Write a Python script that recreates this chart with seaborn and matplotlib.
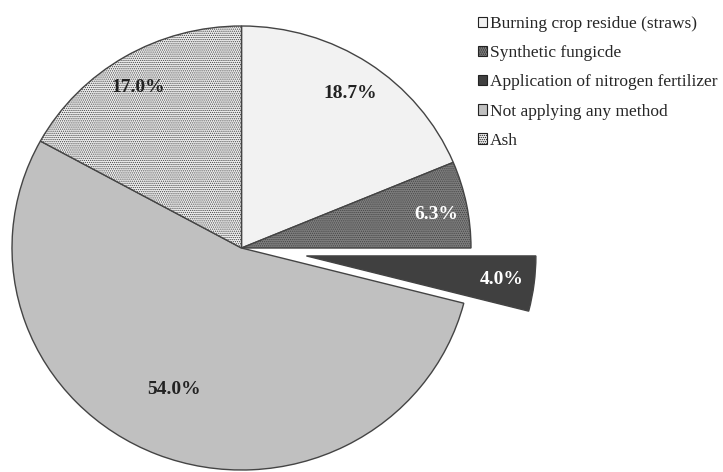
import matplotlib
matplotlib.use("Agg")
import matplotlib.pyplot as plt
import seaborn as sns
import numpy as np
from matplotlib.patches import Patch

sns.set_theme(style="white")
plt.rcParams['font.family'] = ['Liberation Serif', 'DejaVu Serif']
plt.rcParams['hatch.linewidth'] = 0.6

# Data
methods = ["Burning crop residue (straws)", "Synthetic fungicde",
           "Application of nitrogen fertilizer", "Not applying any method", "Ash"]
shares = [18.7, 6.3, 4.0, 54.0, 17.0]

colors = ["#f2f2f2", "#7f7f7f", "#404040", "#c0c0c0", "#eeeeee"]
hatches = [None, "........", None, None, "........"]
explode = [0, 0, 0.285, 0, 0]
text_colors = ["#222222", "white", "white", "#222222", "#222222"]
# label placement (radius, angle in degrees) relative to each wedge centre
label_r = [0.843, 0.860, 0.859, 0.704, 0.850]
label_theta = [55.9, 10.0, -7.2, 245.3, 122.0]

fig = plt.figure(figsize=(7.23, 4.72), dpi=100)
ax = fig.add_axes([0, 0, 1, 1])

wedges, _ = ax.pie(shares, explode=explode, colors=colors, startangle=90,
                   counterclock=False, radius=1,
                   wedgeprops=dict(edgecolor="#444444", linewidth=1))
for w, h in zip(wedges, hatches):
    if h:
        w.set_hatch(h)

for w, s, r, t, c in zip(wedges, shares, label_r, label_theta, text_colors):
    cx, cy = w.center
    ax.text(cx + r * np.cos(np.radians(t)), cy + r * np.sin(np.radians(t)),
            f"{s:.1f}%", ha="center", va="center", fontsize=14,
            fontweight="bold", color=c)

# pixel mapping: centre at (241.5, 248), radii 229.5 x 222 px
ax.set_aspect("auto")
ax.set_xlim(-241.5 / 229.5, (723 - 241.5) / 229.5)
ax.set_ylim(-(472 - 248) / 222, 248 / 222)
ax.axis("off")

handles = [Patch(facecolor=c, edgecolor="#222222", hatch=h, linewidth=0.8)
           for c, h in zip(colors, hatches)]
fig.legend(handles, methods, loc="upper left",
           bbox_to_anchor=(471 / 723, 1 - 9 / 472), frameon=False,
           fontsize=12.5, handlelength=0.55, handleheight=0.55,
           handletextpad=0.15, labelspacing=0.76, borderaxespad=0)

fig.savefig("out.png", dpi=100)
